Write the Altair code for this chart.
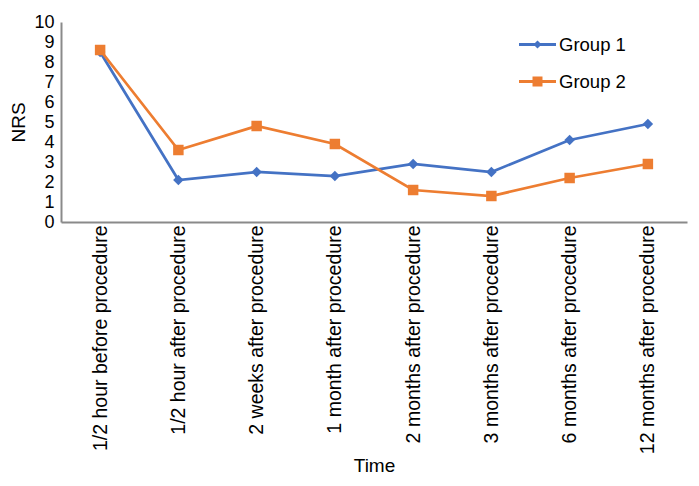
import altair as alt
import pandas as pd

times = [
    "1/2 hour before procedure",
    "1/2 hour after procedure",
    "2 weeks after procedure",
    "1 month after procedure",
    "2 months after procedure",
    "3 months after procedure",
    "6 months after procedure",
    "12 months after procedure",
]
group1 = [8.5, 2.1, 2.5, 2.3, 2.9, 2.5, 4.1, 4.9]
group2 = [8.6, 3.6, 4.8, 3.9, 1.6, 1.3, 2.2, 2.9]
groups = ["Group 1", "Group 2"]
colors = ["#4472C4", "#ED7D31"]
point_shapes = ["diamond", "square"]
legend_shapes = [
    "M-1,-0.08H1V0.08H-1Z M0,-0.22L0.22,0L0,0.22L-0.22,0Z",
    "M-1,-0.08H1V0.08H-1Z M-0.27,-0.27H0.27V0.27H-0.27Z",
]

rows = []
for t, a, b in zip(times, group1, group2):
    rows.append({"Time": t, "group": groups[0], "NRS": a})
    rows.append({"Time": t, "group": groups[1], "NRS": b})
df = pd.DataFrame(rows)

x_enc = alt.X(
    "Time:N",
    sort=times,
    title="Time",
    axis=alt.Axis(
        labelAngle=270,
        labelFontSize=19.5,
        labelPadding=3,
        labelLimit=400,
        ticks=False,
        grid=False,
        domainColor="#8a8a8a",
        domainWidth=2,
        titleFontSize=19,
        titleY=243,
        titleBaseline="middle",
    ),
)
y_enc = alt.Y(
    "NRS:Q",
    scale=alt.Scale(domain=[0, 10], nice=False),
    title="NRS",
    axis=alt.Axis(
        values=list(range(11)),
        labelFontSize=18,
        labelPadding=7,
        ticks=False,
        grid=False,
        domainColor="#8a8a8a",
        domainWidth=2,
        titleFontSize=19,
        titlePadding=5,
    ),
)
color_scale = alt.Scale(domain=groups, range=colors)

base = alt.Chart(df)

data_layers = []
for g, col in zip(groups, colors):
    data_layers.append(
        base.transform_filter(alt.datum.group == g)
        .mark_line(strokeWidth=2.75, color=col)
        .encode(x=x_enc, y=y_enc)
    )
for g, col, shp in zip(groups, colors, point_shapes):
    data_layers.append(
        base.transform_filter(alt.datum.group == g)
        .mark_point(filled=True, shape=shp, size=110, opacity=1, color=col)
        .encode(x=x_enc, y=y_enc)
    )

# legend-only layer: no rows pass the filter, the legend comes from the explicit scales
legend_layer = (
    base.transform_filter(alt.datum.NRS < -1000)
    .mark_point(filled=True, opacity=1)
    .encode(
        x=x_enc,
        y=y_enc,
        color=alt.Color(
            "group:N",
            scale=color_scale,
            legend=alt.Legend(
                title=None,
                orient="none",
                legendX=458,
                legendY=4,
                padding=0,
                symbolSize=1369,
                symbolStrokeWidth=0,
                symbolOpacity=1,
                labelFontSize=18.5,
                labelOffset=3,
                rowPadding=9,
            ),
        ),
        shape=alt.Shape("group:N", scale=alt.Scale(domain=groups, range=legend_shapes)),
    )
)

chart = (
    alt.layer(*data_layers, legend_layer)
    .properties(
        width=626,
        height=200,
        autosize=alt.AutoSizeParams(type="none"),
        padding={"left": 53, "top": 14, "right": 4, "bottom": 256},
    )
    .configure(font="Liberation Sans")
    .configure_view(stroke=None)
    .configure_axis(labelColor="black", titleColor="black", titleFontWeight="normal")
    .configure_legend(labelColor="black")
)

chart.save("out.html", embed_options={"renderer": "svg", "actions": False})
